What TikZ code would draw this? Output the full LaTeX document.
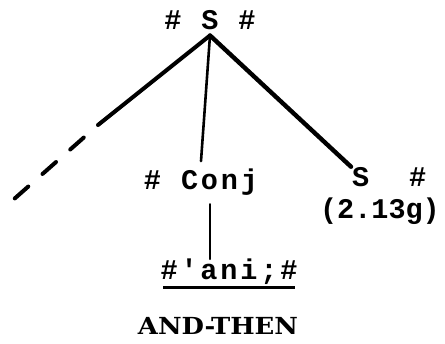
\documentclass[tikz,border=0pt]{standalone}
\usepackage{fontspec}
\setmainfont{Liberation Serif}
\setmonofont{Liberation Mono}[LetterSpace=10]
\newfontfamily\plainmono{Liberation Mono}
\newfontfamily\glossfamily{DejaVu Serif}[FakeStretch=1.1]

\newcommand\typew{\fontsize{28.5}{34}\selectfont\ttfamily\bfseries}
\newcommand\typen{\fontsize{28.5}{34}\selectfont\plainmono\bfseries}
\newcommand\glossf{\fontsize{23.5}{28}\selectfont\glossfamily\bfseries}

\begin{document}
\begin{tikzpicture}[x=1pt, y=-1pt, line cap=round,
    lbl/.style={inner sep=1pt, font=\typew},
    branch/.style={line width=4pt},
    stem/.style={line width=2pt}]
  \useasboundingbox (0,0) rectangle (445,344);
  % tree labels
  \node[lbl, anchor=base, inner ysep=5pt] (top) at (210,30) {\#~S~\#};
  \node[lbl, anchor=base, inner ysep=8pt] (conj) at (201,190) {\#~Conj};
  \node[lbl, anchor=base west] (rs) at (351,187) {S~~\#};
  \node[lbl, font=\typen, anchor=base] (ref) at (380,219) {(2.13g)};
  \node[lbl, anchor=base, inner sep=0pt] (ani) at (229,280) {\#'ani;\#};
  \node[font=\glossf, anchor=base] (gl) at (218,335) {AND-THEN};
  % left branch runs off into dashes
  \coordinate (lmid) at (98,125);
  \coordinate (lend) at (13,200);
  \draw[branch] (top.south) -- (lmid);
  \draw[branch, dash pattern=on 18pt off 19pt, dash phase=18pt] (lmid) -- (lend);
  \draw[line width=2.6pt] (top.south) -- (conj.north);
  \draw[line width=4.4pt] (top.south) -- (rs.north west);
  \draw[stem] (conj.south -| top.south) -- (ani.north -| top.south);
  % underline
  \draw[line width=3pt, line cap=butt, shorten <=3pt, shorten >=3pt]
    ([yshift=-8pt]ani.base west) -- ([yshift=-8pt]ani.base east);
\end{tikzpicture}
\end{document}
